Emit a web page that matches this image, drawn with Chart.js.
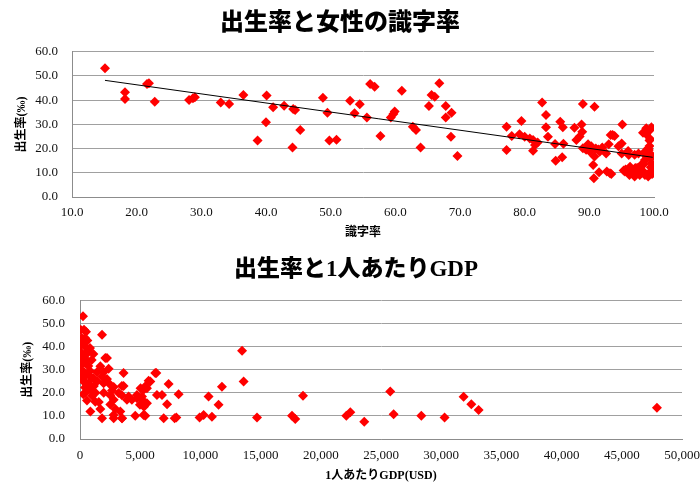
<!DOCTYPE html>
<html><head><meta charset="utf-8">
<script src="https://cdn.jsdelivr.net/npm/chart.js@4.4.1/dist/chart.umd.min.js"></script>
<style>
html,body{margin:0;padding:0;background:#fff;}
#top{position:absolute;left:0;top:0;width:700px;height:250px;}
#bot{position:absolute;left:0;top:250px;width:700px;height:234px;}
</style></head><body>
<div id="top"><canvas id="cLit" width="700" height="250"></canvas></div>
<div id="bot"><canvas id="cGdp" width="700" height="234"></canvas></div>
<script>
/* ── data ── */
// female literacy (%) vs birth rate (‰)
const litX=[15.1,18.2,18.2,21.6,21.9,22.8,28.1,28.7,29.0,33.0,34.3,36.5,38.7,40.0,40.1,41.1,42.8,44.2,44.5,44.1,45.3,48.8,49.5,49.8,50.9,53.0,53.7,54.5,55.6,56.1,56.8,57.7,59.3,59.7,59.9,61.0,62.7,63.2,63.9,65.2,65.6,66.1,66.8,67.8,67.8,68.7,68.6,69.6,
  77.2,77.2,78.0,79.5,79.2,80.0,80.8,81.3,81.6,81.3,82.7,83.3,83.3,83.6,84.7,84.8,85.5,85.9,85.8,87.7,88.8,88.9,88.0,89.0,89.8,89.0,90.1,90.8,91.6,90.8,90.6,90.7,91.5,91.4,92.6,93.0,93.6,93.3,93.9,95.0,95.1,93.2,93.4,92.7,
  96.0,96.1,95.5,96.2,95.6,96.6,97.3,97.1,98.0,97.7,97.6,98.3,98.8,99.6,99.4,98.8,99.4,99.3,99.3,99.1,99.2,99.0,98.8,98.6,99.6,99.6,99.5,99.8,99.7,99.8,98.0,99.1,98.2,99.4,98.6,97.8,97.0,97.5,96.3,95.3,94.5,92.0,91.0,90.3,89.5,88.5,86.0,82.0,95.0,97.0,98.5,99.5,100.0,99.9,98.4];
const litRate=[53.2,43.3,40.5,46.7,47.0,39.4,40.1,40.8,41.2,39.1,38.4,42.1,23.3,30.9,41.9,37.1,37.7,36.4,36.0,20.5,27.7,41.0,34.8,23.3,23.7,39.8,34.6,38.3,32.9,46.7,45.6,25.2,32.9,34.3,35.3,43.9,29.0,27.7,20.5,37.6,42.1,41.4,47.0,37.6,32.9,34.8,24.9,16.9,
  29.0,19.4,25.2,31.4,25.9,24.9,24.2,23.6,21.5,19.1,39.1,33.9,28.8,24.9,21.9,15.0,31.1,28.8,16.4,28.6,30.0,27.0,23.6,38.4,21.8,20.1,18.7,16.7,18.7,37.3,13.2,7.7,10.2,19.6,18.0,21.8,25.6,25.6,25.2,22.1,30.0,9.8,9.5,10.5,
  19.0,17.4,10.5,9.1,11.4,10.5,11.9,12.0,13.2,9.9,18.0,26.6,28.4,28.8,27.7,25.9,24.0,23.3,21.1,20.1,19.4,16.5,16.7,15.3,17.4,14.0,12.3,10.3,9.5,9.8,10.0,8.5,11.0,10.3,9.1,9.1,8.5,12.0,12.5,11.0,21.0,20.5,20.0,21.0,19.5,25.0,22.0,22.5,18.0,17.5,18.5,16.0,11.0,13.0,13.5];
// trend line end points
const trendX=[15.1,99.8];
const trendY=[48.2,16.4];

// GDP per capita (USD) vs birth rate (‰)
const gdpX=[250,60,330,500,140,420,610,100,280,550,830,80,420,690,1110,80,280,550,970,140,420,690,80,330,830,140,550,970,280,690,420,830,280,1110,220,100,
  1830,2100,2240,2380,2240,1690,1970,1420,1420,1150,1280,1010,860,580,580,440,1830,1970,1690,1560,2800,2940,2800,2660,2800,2520,1830,1960,2520,1270,2790,3350,3490,3210,3620,2520,
  3620,3480,3480,3490,3900,4310,4590,4730,5030,5170,5310,5420,5310,5450,5700,6340,6250,5150,5560,5840,4040,4730,4980,5560,6390,5280,
  6810,6950,7230,7360,7860,8000,8190,9930,10270,10680,10960,11510,11790,13460,13590,14700,17610,17880,18520,22120,22450,23610,25770,26050,28350,30280,31860,32500,33110,47920];
const gdpRate=[53.2,47.4,47.4,46.5,43.8,43.8,42.7,41.0,41.0,39.4,39.4,37.6,36.8,37.6,36.8,35.1,35.9,34.2,34.2,32.3,33.2,31.6,30.0,29.1,29.5,27.1,28.0,26.4,25.0,24.2,22.3,21.6,19.4,26.4,25.8,35.0,
  45.2,35.1,35.1,30.5,26.0,31.5,29.0,29.0,25.0,23.0,20.0,18.8,11.9,16.7,23.3,20.0,9.0,20.0,13.0,16.0,9.0,13.0,17.0,21.0,22.5,15.0,27.1,24.2,23.5,16.2,10.4,11.9,9.0,19.9,23.0,19.0,
  28.6,23.0,19.0,9.0,17.0,17.0,10.1,19.1,22.0,17.0,14.0,10.1,21.5,23.0,25.2,28.6,28.6,18.4,22.0,24.9,18.4,17.7,14.8,15.5,19.1,10.4,
  19.1,9.0,15.1,23.8,9.0,9.3,19.4,9.3,10.4,18.4,9.7,14.8,22.7,38.3,24.9,9.3,10.1,8.7,18.8,10.1,11.6,7.5,20.6,10.7,10.1,9.3,18.3,15.1,12.6,13.6];

const rateTicks=[0,10,20,30,40,50,60];

/* ── chart helpers ── */
const serif='"Liberation Serif","Times New Roman",serif';
const jpBold='"Liberation Serif","Noto Sans CJK JP",sans-serif';
const gothic='"Noto Sans CJK JP",sans-serif';
const gridc='#a0a0a0', axisc='#8c8c8c', red='#ff0000';
const pts=(xs,ys)=>xs.map((x,i)=>({x,y:ys[i]}));

function scatter(id,o){
  const sets=[];
  if(o.trend)sets.push({data:pts(o.trend[0],o.trend[1]),showLine:true,borderColor:'#000',borderWidth:1,pointRadius:0,order:0});
  sets.push({data:pts(o.xs,o.ys),pointStyle:'rectRot',pointRadius:5,pointBackgroundColor:red,pointBorderWidth:0,borderColor:red,order:1});
  new Chart(document.getElementById(id),{type:'scatter',data:{datasets:sets},
    options:{responsive:false,animation:false,
      layout:{padding:{left:o.padL,right:o.padR,top:0,bottom:0}},
      plugins:{legend:{display:false},tooltip:{enabled:false},
        title:{display:true,text:o.title,color:'#000',font:{family:o.tFont,size:o.tSize,weight:900,lineHeight:1.2},padding:{top:o.tTop,bottom:o.tBot}}},
      scales:{
        x:{type:'linear',min:o.xMin,max:o.xMax,
          ticks:{stepSize:o.xStep,maxRotation:0,autoSkip:false,padding:o.xPad,color:'#111',font:{family:serif,size:13},callback:o.xFmt},
          grid:{display:false,drawTicks:false},border:{display:true,color:axisc},
          title:{display:true,text:o.xTitle,color:'#000',font:{family:jpBold,size:12,weight:'bold',lineHeight:1.2},padding:{top:0,bottom:o.xTitlePad}},
          afterFit:s=>{s.height=o.xH;s.paddingLeft=0;s.paddingRight=0;}},
        y:{min:0,max:60,
          afterBuildTicks:s=>{s.ticks=rateTicks.map(v=>({value:v}));},
          ticks:{padding:o.yPad,color:'#111',font:{family:serif,size:13},callback:v=>v.toFixed(1)},
          grid:{color:gridc,drawTicks:false},border:{display:true,color:axisc},
          title:{display:true,text:'出生率(‰)',color:'#000',font:{family:jpBold,size:12,weight:'bold',lineHeight:1.2},padding:{top:o.yTitlePad,bottom:0}},
          afterFit:s=>{s.width=o.yW;s.paddingTop=0;s.paddingBottom=0;}},
        // empty right-hand gutter so the title centres where the reference has it
        gap:{position:'right',display:true,grid:{display:false,drawTicks:false},border:{display:false},ticks:{display:false},
          afterFit:s=>{s.width=o.gapR;s.paddingTop=0;s.paddingBottom=0;}}
      }}});
}

scatter('cLit',{title:'出生率と女性の識字率',tFont:gothic,tSize:24,tTop:6,tBot:17,
  xs:litX,ys:litRate,trend:[trendX,trendY],
  xMin:10,xMax:100,xStep:10,xFmt:v=>v.toFixed(1),xTitle:'識字率',xH:53,xPad:8,xTitlePad:10,
  yW:72,yPad:14,yTitlePad:15,padL:0,padR:20,gapR:26});

scatter('cGdp',{title:'出生率と1人あたりGDP',tFont:jpBold,tSize:23,tTop:6,tBot:17,
  xs:gdpX,ys:gdpRate,
  xMin:0,xMax:50000,xStep:5000,xFmt:v=>v.toLocaleString('en-US'),xTitle:'1人あたりGDP(USD)',xH:45,xPad:9,xTitlePad:1,
  yW:68,yPad:15,yTitlePad:9,padL:12,padR:0,gapR:18});
</script>
</body></html>
